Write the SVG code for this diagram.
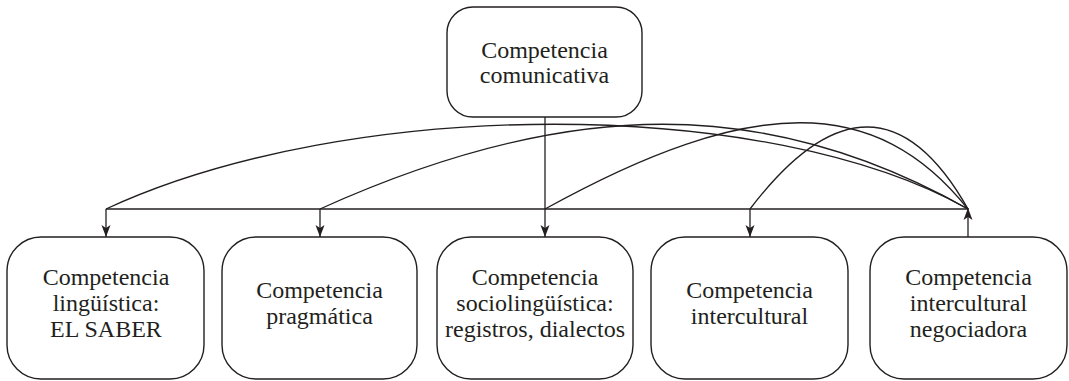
<svg xmlns="http://www.w3.org/2000/svg" width="1069" height="381" viewBox="0 0 1069 381">
<style>
.box{fill:#fff;stroke:#231f20;stroke-width:1.4}
.t{font-family:"Liberation Serif","Times New Roman",serif;font-size:24px;fill:#231f20;text-anchor:middle}
.c{fill:none;stroke:#231f20;stroke-width:1.3}
</style>
<defs>
<marker id="ah" viewBox="0 0 12 10" refX="12" refY="5" markerWidth="12" markerHeight="10" markerUnits="userSpaceOnUse" orient="auto">
<path d="M0,0.5 L12,5 L0,9.5 L3,5 Z" fill="#231f20"/>
</marker>
</defs>
<rect width="1069" height="381" fill="#fff"/>
<g id="connectors">
<line class="c" x1="545" y1="117" x2="545" y2="237" marker-end="url(#ah)"/>
<line class="c" x1="106" y1="209" x2="968" y2="209"/>
<line class="c" x1="106" y1="209" x2="106" y2="237" marker-end="url(#ah)"/>
<line class="c" x1="320" y1="209" x2="320" y2="237" marker-end="url(#ah)"/>
<line class="c" x1="750" y1="209" x2="750" y2="237" marker-end="url(#ah)"/>
<line class="c" x1="968" y1="237" x2="968" y2="208" marker-end="url(#ah)"/>
<path class="c" d="M106,209 C350,96 768,96 968,209"/>
<path class="c" d="M320,209 C570,96 768,96 968,209"/>
<path class="c" d="M545,209 C753,94 876,94 968,209"/>
<path class="c" d="M750,209 Q875,45 968,209"/>
</g>
<g id="n0">
<rect class="box" x="447" y="7" width="195" height="110" rx="26" ry="26"/>
<text class="t" x="544.5" y="58">Competencia</text>
<text class="t" x="544.5" y="83">comunicativa</text>
</g>
<g id="n1">
<rect class="box" x="7" y="237" width="197" height="142" rx="34" ry="34"/>
<text class="t" x="106" y="285">Competencia</text>
<text class="t" x="106" y="311">lingüística:</text>
<text class="t" x="106" y="337">EL SABER</text>
</g>
<g id="n2">
<rect class="box" x="222" y="237" width="195" height="142" rx="34" ry="34"/>
<text class="t" x="319.5" y="298">Competencia</text>
<text class="t" x="319.5" y="324">pragmática</text>
</g>
<g id="n3">
<rect class="box" x="437" y="237" width="196" height="142" rx="34" ry="34"/>
<text class="t" x="535" y="285">Competencia</text>
<text class="t" x="535" y="311">sociolingüística:</text>
<text class="t" x="535" y="337">registros, dialectos</text>
</g>
<g id="n4">
<rect class="box" x="651" y="237" width="197" height="142" rx="34" ry="34"/>
<text class="t" x="749.5" y="298">Competencia</text>
<text class="t" x="749.5" y="324">intercultural</text>
</g>
<g id="n5">
<rect class="box" x="870" y="237" width="197" height="142" rx="34" ry="34"/>
<text class="t" x="968.5" y="285">Competencia</text>
<text class="t" x="968.5" y="311">intercultural</text>
<text class="t" x="968.5" y="337">negociadora</text>
</g>
</svg>
